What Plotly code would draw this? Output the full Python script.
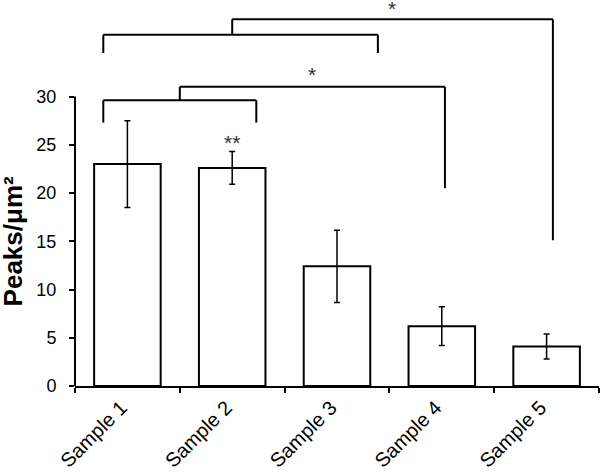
import plotly.graph_objects as go

categories = ["Sample 1", "Sample 2", "Sample 3", "Sample 4", "Sample 5"]
means = [23.0, 22.6, 12.4, 6.2, 4.1]
errors = [4.5, 1.7, 3.75, 2.0, 1.3]
y_ticks = [0, 5, 10, 15, 20, 25, 30]

# significance brackets (category-index x, data y)
brackets_x = [
    [-0.23, -0.23, 1.23, 1.23],
    [-0.23, -0.23, 2.39, 2.39],
    [0.50, 0.50, 3.03, 3.03],
    [1.00, 1.00, 4.06, 4.06],
]
brackets_y = [
    [27.3, 29.6, 29.6, 27.3],
    [34.5, 36.4, 36.4, 34.5],
    [29.6, 31.0, 31.0, 20.5],
    [36.4, 38.0, 38.0, 15.1],
]
stars_x = [1.76, 2.52, 1.0]
stars_y = [32.3, 39.1, 25.2]
stars_text = ["*", "*", "**"]

fig = go.Figure()
fig.add_trace(go.Bar(
    x=categories, y=means, width=0.635,
    marker=dict(color="white", line=dict(color="black", width=2)),
    error_y=dict(type="data", array=errors, visible=True, color="black",
                 thickness=1.5, width=3),
))

shapes = []
for bx, by in zip(brackets_x, brackets_y):
    for i in range(len(bx) - 1):
        shapes.append(dict(type="line", xref="x", yref="y",
                           x0=bx[i], y0=by[i], x1=bx[i + 1], y1=by[i + 1],
                           line=dict(color="black", width=2)))
# y axis line only over the 0-30 range
shapes.append(dict(type="line", xref="paper", yref="y", x0=0, x1=0,
                   y0=0, y1=y_ticks[-1], line=dict(color="black", width=2)))

annotations = []
for sx, sy, st in zip(stars_x, stars_y, stars_text):
    annotations.append(dict(x=sx, y=sy, xref="x", yref="y", text=st,
                            showarrow=False,
                            font=dict(size=21, color="#333333",
                                      family="Liberation Sans")))
annotations.append(dict(x=-0.118, y=15, xref="paper", yref="y",
                        xanchor="center", yanchor="middle",
                        text="<b>Peaks/μm²</b>", textangle=-90,
                        showarrow=False,
                        font=dict(size=26, color="black",
                                  family="Liberation Sans")))

fig.update_layout(
    width=601, height=475,
    margin=dict(l=75, r=2, t=0, b=89),
    plot_bgcolor="white", paper_bgcolor="white",
    showlegend=False,
    shapes=shapes, annotations=annotations,
    font=dict(family="Liberation Sans", color="black"),
    bargap=0.365,
)
fig.update_xaxes(
    type="category", range=[-0.5, 4.5], automargin=False,
    showline=True, linecolor="black", linewidth=2,
    ticks="outside", tickson="boundaries", ticklen=5, tickwidth=1.5,
    tickcolor="black", tickangle=-45, ticklabelshift=-6,
    tickfont=dict(size=20, color="black", family="Liberation Sans"),
    showgrid=False, zeroline=False,
)
fig.update_yaxes(
    range=[0, 40], tickvals=y_ticks, ticks="outside", ticklen=5,
    automargin=False, ticklabelstandoff=9,
    tickwidth=1.5, tickcolor="black", showline=False, showgrid=False,
    zeroline=False,
    tickfont=dict(size=18, color="black", family="Liberation Sans"),
)

fig.write_html("out.html",
               config={"displayModeBar": False},
               post_script="document.body.style.margin='0';"
                           "document.body.style.overflow='hidden';")
